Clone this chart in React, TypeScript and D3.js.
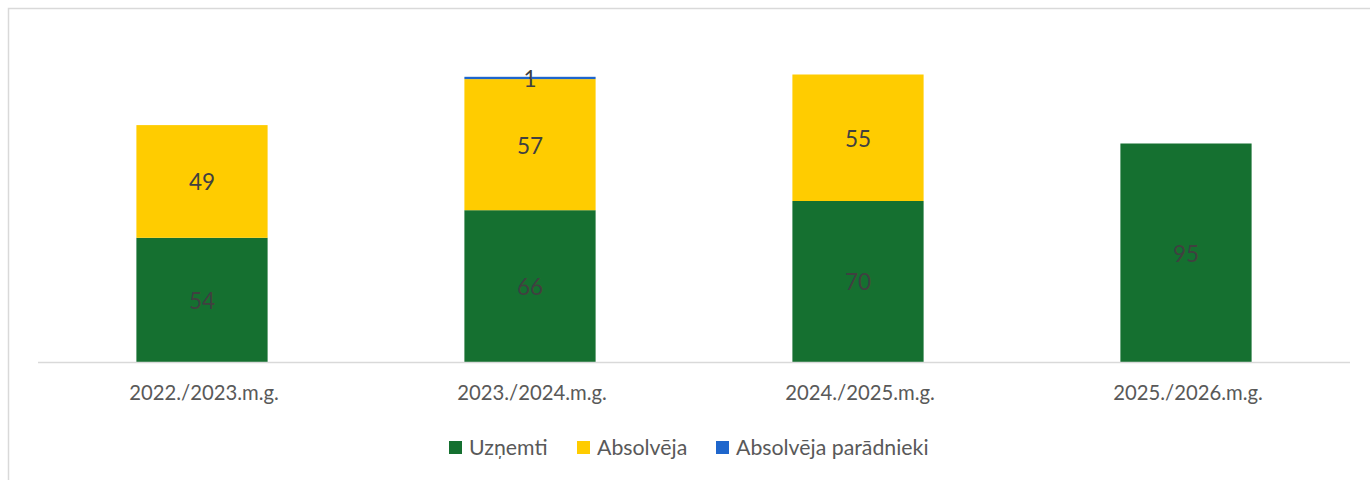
import React, { useRef, useEffect } from 'react';
import * as d3 from 'd3';

const categories = ['2022./2023.m.g.', '2023./2024.m.g.', '2024./2025.m.g.', '2025./2026.m.g.'];
const seriesNames = ['Uzņemti', 'Absolvēja', 'Absolvēja parādnieki'];
const uznemti = [54, 66, 70, 95];
const absolveja = [49, 57, 55, 0];
const paradnieki = [0, 1, 0, 0];
const colors = ['#157030', '#FFCC00', '#1F66CC'];

const width = 1370;
const height = 481;

const App = () => {
  const ref = useRef<SVGSVGElement>(null);

  useEffect(() => {
    const svg = d3.select(ref.current);
    svg.selectAll('*').remove();

    const font = 'Lato, "Open Sans", sans-serif';

    // outer chart border (top and left visible)
    svg.append('path')
      .attr('d', `M8.5,480 V8.5 H${width}`)
      .attr('fill', 'none')
      .attr('stroke', '#d9d9d9')
      .attr('stroke-width', 1.5);

    const x = d3.scaleBand<string>()
      .domain(categories)
      .range([38, 1350])
      .paddingInner(0.6)
      .paddingOuter(0.3);

    const y = d3.scaleLinear().domain([0, 140]).range([362, 40]);

    const rows = categories.map((c, i) => ({
      cat: c,
      [seriesNames[0]]: uznemti[i],
      [seriesNames[1]]: absolveja[i],
      [seriesNames[2]]: paradnieki[i],
    }));

    const stack = d3.stack<any>().keys(seriesNames);
    const layers = stack(rows);

    layers.forEach((layer, li) => {
      const g = svg.append('g');
      g.selectAll('rect')
        .data(layer)
        .enter()
        .filter((d) => d[1] - d[0] > 0)
        .append('rect')
        .attr('x', (d) => x(d.data.cat)!)
        .attr('width', x.bandwidth())
        .attr('y', (d) => y(d[1]))
        .attr('height', (d) => y(d[0]) - y(d[1]))
        .attr('fill', colors[li]);
    });

    layers.forEach((layer) => {
      svg.append('g')
        .selectAll('text')
        .data(layer)
        .enter()
        .filter((d) => d[1] - d[0] > 0)
        .append('text')
        .attr('x', (d) => x(d.data.cat)! + x.bandwidth() / 2)
        .attr('y', (d) => (y(d[0]) + y(d[1])) / 2 + 1)
        .attr('dy', '0.35em')
        .attr('text-anchor', 'middle')
        .attr('font-family', font)
        .attr('font-size', 22.5)
        .attr('fill', '#404040')
        .text((d) => d[1] - d[0]);
    });

    // axis line
    svg.append('line')
      .attr('x1', 38)
      .attr('x2', 1350)
      .attr('y1', 362.5)
      .attr('y2', 362.5)
      .attr('stroke', '#d9d9d9')
      .attr('stroke-width', 1.5);

    svg.append('g')
      .selectAll('text')
      .data(categories)
      .enter()
      .append('text')
      .attr('x', (d) => x(d)! + x.bandwidth() / 2 + 2)
      .attr('y', 393)
      .attr('dy', '0.35em')
      .attr('text-anchor', 'middle')
      .attr('font-family', font)
      .attr('font-size', 20.3)
      .attr('fill', '#595959')
      .text((d) => d);

    // legend
    const legendX = [449, 577, 716];
    const legend = svg.append('g');
    seriesNames.forEach((name, i) => {
      legend.append('rect')
        .attr('x', legendX[i])
        .attr('y', 441)
        .attr('width', 13)
        .attr('height', 13)
        .attr('fill', colors[i]);
      legend.append('text')
        .attr('x', legendX[i] + 20)
        .attr('y', 447.5)
        .attr('dy', '0.35em')
        .attr('font-family', font)
        .attr('font-size', 21.3)
        .attr('fill', '#595959')
        .text(name);
    });
  }, []);

  return (
    <svg
      ref={ref}
      width={width}
      height={height}
      style={{ position: 'absolute', left: 0, top: 0, background: '#fff' }}
    />
  );
};

export default App;
